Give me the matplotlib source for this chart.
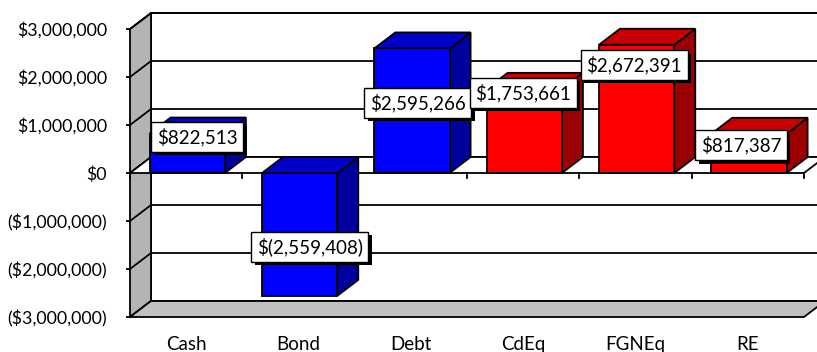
import numpy as np
import matplotlib.pyplot as plt
import matplotlib.patheffects as pe
from matplotlib.ticker import FuncFormatter

plt.rcParams['font.family'] = ['Lato', 'DejaVu Sans']

categories = ['Cash', 'Bond', 'Debt', 'CdEq', 'FGNEq', 'RE']
values = [822513, -2559408, 2595266, 1753661, 2672391, 817387]
value_labels = ['$822,513', '$(2,559,408)', '$2,595,266',
                '$1,753,661', '$2,672,391', '$817,387']
is_equity = [False, False, False, True, True, True]
yticks = [-3000000, -2000000, -1000000, 0, 1000000, 2000000, 3000000]

# where Excel put the data labels (offset from category centre, y in dollars)
label_dx = [0.10, 0.10, 0.06, 0.00, -0.01, -0.06]
label_y = [750000, -1540000, 1460000, 1670000, 2250000, 580000]

# colours: front, top, side
blue = ('#0000ff', '#0000c8', '#00009c')
red = ('#ff0000', '#c80000', '#9c0000')

fig = plt.figure(figsize=(8.17, 3.52), dpi=100)
ax = fig.add_axes([130 / 817, 35 / 352, 674 / 817, 288 / 352])
ax.set_xlim(0, 6)
ax.set_ylim(-3000000, 3000000)

# depth offset of the 3d box (in data units)
DX, DY = 0.187, 333000
n = len(categories)
lo, hi = yticks[0], yticks[-1]
LW = 1.3

# back wall
ax.fill([DX, n + DX, n + DX, DX], [lo + DY, lo + DY, hi + DY, hi + DY],
        fc='white', ec='black', lw=LW, clip_on=False, zorder=1)
# side wall
ax.fill([0, DX, DX, 0], [lo, lo + DY, hi + DY, hi],
        fc='#b4b4b4', ec='black', lw=LW, clip_on=False, zorder=2)
# gridlines on back and side wall
for t in yticks:
    ax.plot([0, DX, n + DX], [t, t + DY, t + DY], color='black', lw=LW,
            clip_on=False, zorder=3)
# floor
ax.fill([0, n, n + DX, DX], [lo, lo, lo + DY, lo + DY],
        fc='#c0c0c0', ec='black', lw=LW, clip_on=False, zorder=4)
# zero plane (category axis)
ax.fill([0, n, n + DX, DX], [0, 0, DY, DY],
        fc='white', ec='black', lw=LW, clip_on=False, zorder=5)
for k in range(n + 1):
    ax.plot([k, k], [0, -110000], color='black', lw=LW, clip_on=False,
            zorder=5)

# bars
w = 0.67
for i, v in enumerate(values):
    front, top, side = red if is_equity[i] else blue
    x0 = i + 0.175
    x1 = x0 + w
    b, t = min(0, v), max(0, v)
    z = 6 + i
    ax.fill([x1, x1 + DX, x1 + DX, x1], [b, b + DY, t + DY, t],
            fc=side, ec='black', lw=LW, clip_on=False, zorder=z)
    ax.fill([x0, x1, x1 + DX, x0 + DX], [t, t, t + DY, t + DY],
            fc=top, ec='black', lw=LW, clip_on=False, zorder=z)
    ax.fill([x0, x1, x1, x0], [b, b, t, t],
            fc=front, ec='black', lw=LW, clip_on=False, zorder=z)

# data labels with drop shadow
for i, lab in enumerate(value_labels):
    txt = ax.text(i + 0.5 + label_dx[i], label_y[i], lab, ha='center',
                  va='center', fontsize=13.5, zorder=20,
                  bbox=dict(boxstyle='square,pad=0.3', fc='white',
                            ec='black', lw=1))
    txt.get_bbox_patch().set_path_effects(
        [pe.SimplePatchShadow(offset=(2.5, -2.5), shadow_rgbFace='black',
                              alpha=1), pe.Normal()])


def money(x, pos):
    if x < 0:
        return '(${:,.0f})'.format(-x)
    return '${:,.0f}'.format(x)


ax.set_yticks(yticks)
ax.yaxis.set_major_formatter(FuncFormatter(money))
ax.set_xticks(np.arange(n) + 0.5)
ax.set_xticklabels(categories)
ax.tick_params(axis='y', length=3, width=LW, pad=13.5, labelsize=12.8)
ax.tick_params(axis='x', length=0, pad=13.5, labelsize=13.5)
for s in ax.spines.values():
    s.set_visible(False)
ax.patch.set_visible(False)

fig.savefig('out.png', dpi=100)
